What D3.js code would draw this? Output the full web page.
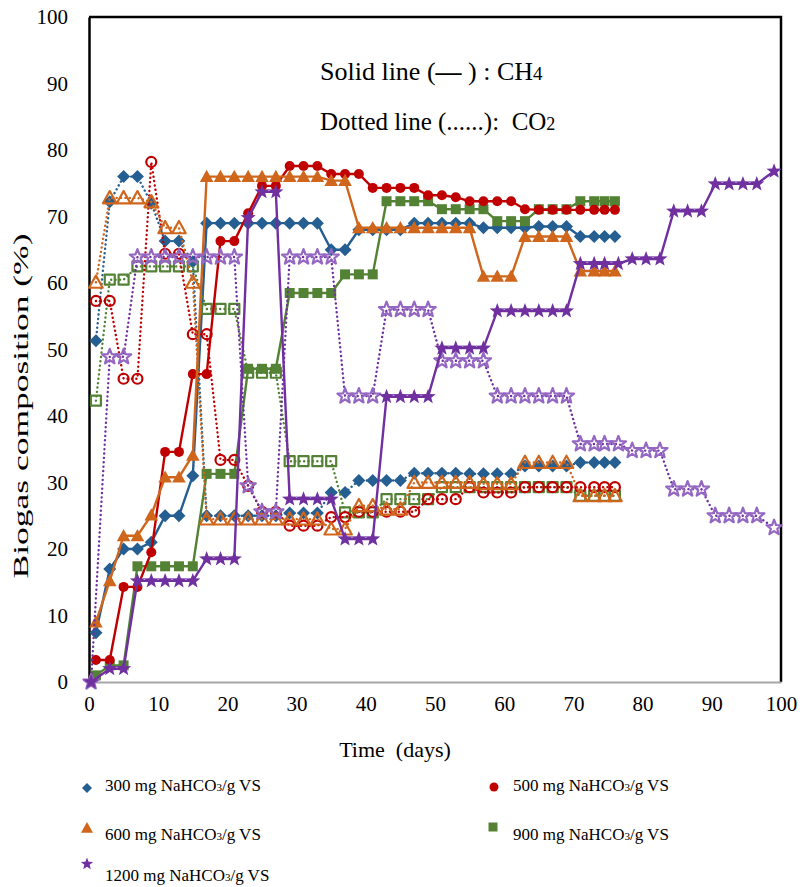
<!DOCTYPE html>
<html>
<head>
<meta charset="utf-8">
<script src="https://cdn.jsdelivr.net/npm/d3@7"></script>
<style>
  body { margin: 0; background: #fff; }
  svg text { font-family: "Liberation Serif", "Times New Roman", serif; fill: #000; }
</style>
</head>
<body>
<div id="container"></div>
<script>
// sampling days (300, 500, 600, 900 mg runs)
var days = [1,3,5,7,9,11,13,15,17,19,21,23,25,27,29,31,33,35,37,39,41,43,45,47,49,51,53,55,57,59,61,63,65,67,69,71,73,74.5,76];
// sampling days for the 1200 mg run (runs longer)
var daysLong = [0.3,3,5,7,9,11,13,15,17,19,21,23,25,27,29,31,33,35,37,39,41,43,45,47,49,51,53,55,57,59,61,63,65,67,69,71,73,74.5,76.5,78.5,80.5,82.5,84.5,86.5,88.5,90.5,92.5,94.5,96.5,99];

var ch4_300 = [7.4,17,20,20,21,25,25,31,69,69,69,69,69,69,69,69,69,65,65,68,68,68,68,69,69,69,69,69,68.3,68.3,68.3,68.3,68.5,68.5,68.5,67,67,67,67];
var co2_300 = [51.3,72.2,76,76,72,66.3,66.3,63.2,25,25,25,25,25,25,25.4,25.4,25.4,28.5,28.5,30.3,30.3,30.3,30.3,31.4,31.4,31.4,31.4,31.3,31.3,31.3,31.3,32.5,32.5,32.5,32.5,33,33,33,33];

var ch4_500 = [3.3,3.3,14.3,14.3,19.5,34.6,34.6,46.3,46.3,66.3,66.3,70.5,74.6,74.6,77.6,77.6,77.6,76.4,76.4,76.4,74.3,74.3,74.3,74.3,73.2,73.2,72.9,72.3,72.3,72.3,72.3,71.1,71,71,71,71,71,71,71];
var co2_500 = [57.3,57.3,45.6,45.6,78.2,64.4,64.4,52.3,52.3,33.4,33.4,29.5,25.6,25.6,23.5,23.5,23.5,24.8,24.8,25.6,25.6,25.6,25.6,25.6,27.5,27.5,27.5,29.3,28.5,28.5,28.5,29.3,29.3,29.3,29.3,29.3,29.3,29.3,29.3];

var ch4_600 = [9,15.2,22,22,25.1,30.8,30.8,34.1,76,76,76,76,76,76,76,76,76,75.4,75.4,68.3,68.3,68.3,68.3,68.3,68.3,68.3,68.3,68.3,61,61,61,67,67,67,67,61.8,61.8,61.8,61.8];
var co2_600 = [60.1,72.8,72.8,72.8,72.2,68.3,68.3,60.1,24.5,24.5,24.5,24.5,24.5,24.5,24.5,24.5,24.5,23,23,26.5,26.5,26,26,30,30,30,30,30,29.8,29.8,29.8,33,33,33,33,28,28,28,28];

var ch4_900 = [1,2.5,2.5,17.4,17.4,17.4,17.4,17.4,31.3,31.3,31.3,47.1,47.1,47.1,58.5,58.5,58.5,58.5,61.3,61.3,61.3,72.3,72.3,72.3,72.3,71.1,71.1,71.1,71.1,69.3,69.3,69.3,71.1,71.1,71.1,72.3,72.3,72.3,72.3];
var co2_900 = [42.3,60.5,60.5,62.5,62.5,62.5,62.5,62.5,56.1,56.1,56.1,46.5,46.5,46.5,33.2,33.2,33.2,33.2,25.5,25.5,25.5,27.5,27.5,27.5,27.5,29.3,29.3,29.3,29.3,29.3,29.3,29.3,29.3,29.3,29.3,28,28,28,28];

var ch4_1200 = [0,2,2,15.2,15.2,15.2,15.2,15.2,18.5,18.5,18.5,69.8,73.7,73.7,27.5,27.5,27.5,27.5,21.5,21.5,21.5,42.9,42.9,42.9,42.9,50.2,50.2,50.2,50.2,55.8,55.8,55.8,55.8,55.8,55.8,62.9,62.9,62.9,62.9,63.6,63.6,63.6,70.8,70.8,70.8,74.9,74.9,74.9,74.9,76.8];
var co2_1200 = [0,48.9,48.9,63.9,63.9,63.9,63.9,63.9,63.9,63.9,63.9,29.5,25.6,25.6,63.9,63.9,63.9,63.9,43,43,43,56,56,56,56,48.3,48.3,48.3,48.3,43,43,43,43,43,43,35.8,35.8,35.8,35.8,34.8,34.8,34.8,29,29,29,25,25,25,25,23.2];

var legendLabels = ["300", "500", "600", "900", "1200"];
var xTicks = [0,10,20,30,40,50,60,70,80,90,100];
var yTicks = [0,10,20,30,40,50,60,70,80,90,100];

var series = {
  "300":  {color: "#255E91", shape: "diamond",  x: days,     ch4: ch4_300,  co2: co2_300,  co2Fill: true},
  "500":  {color: "#C00000", shape: "circle",   x: days,     ch4: ch4_500,  co2: co2_500},
  "600":  {color: "#D0661C", shape: "triangle", x: days,     ch4: ch4_600,  co2: co2_600},
  "900":  {color: "#548235", shape: "square",   x: days,     ch4: ch4_900,  co2: co2_900},
  "1200": {color: "#7030A0", shape: "star",     x: daysLong, ch4: ch4_1200, co2: co2_1200, hollowStroke: "#9467C2"}
};
var drawOrder = ["300", "900", "500", "600", "1200"];

function shapePath(shape, r) {
  if (shape == "diamond") return "M0," + (-r) + "L" + r + ",0L0," + r + "L" + (-r) + ",0Z";
  if (shape == "triangle") return "M0," + (-r) + "L" + r + "," + (r * 0.8) + "L" + (-r) + "," + (r * 0.8) + "Z";
  if (shape == "square") return "M" + (-r) + "," + (-r) + "h" + (2 * r) + "v" + (2 * r) + "h" + (-2 * r) + "Z";
  if (shape == "circle") return d3.symbol(d3.symbolCircle, Math.PI * r * r)();
  // five point star
  var pts = [];
  for (var i = 0; i < 10; i++) {
    var rad = i % 2 == 0 ? r : r * 0.42;
    var a = -Math.PI / 2 + i * Math.PI / 5;
    pts.push([rad * Math.cos(a), rad * Math.sin(a)]);
  }
  return "M" + pts.map(p => p[0].toFixed(2) + "," + p[1].toFixed(2)).join("L") + "Z";
}
var markerSize = {diamond: 6.5, circle: 5, triangle: 6.8, square: 5, star: 8};
var legendSize = {diamond: 5, circle: 4.5, triangle: 6, square: 4.5, star: 6.5};

const width = 803, height = 887;
const x = d3.scaleLinear().domain([0, 100]).range([89, 781]);
const y = d3.scaleLinear().domain([0, 100]).range([682, 17]);

const svg = d3.select("#container")
  .append("svg")
    .attr("width", width)
    .attr("height", height);

// frame (top and right)
svg.append("path")
  .attr("d", "M" + x(0) + "," + y(100) + "H" + x(100) + "V" + y(0))
  .attr("fill", "none")
  .attr("stroke", "#000")
  .attr("stroke-width", 2.5);

// x-axis
var gx = svg.append("g")
  .attr("transform", "translate(0," + y(0) + ")")
  .call(d3.axisBottom(x).tickValues(xTicks).tickSize(0).tickPadding(14));
gx.attr("font-family", null);
gx.select(".domain").attr("stroke", "#a6a6a6").attr("stroke-width", 2);
gx.selectAll("text").attr("font-size", 21);

// y-axis
var gy = svg.append("g")
  .attr("transform", "translate(" + x(0) + ",0)")
  .call(d3.axisLeft(y).tickValues(yTicks).tickSize(0).tickPadding(21));
gy.attr("font-family", null);
gy.select(".domain").attr("stroke", "#000").attr("stroke-width", 2.5);
gy.selectAll("text").attr("font-size", 21);

// axis titles
svg.append("text")
  .attr("x", 395).attr("y", 757)
  .attr("text-anchor", "middle")
  .attr("font-size", 22)
  .attr("xml:space", "preserve")
  .text("Time  (days)");

svg.append("text")
  .attr("transform", "translate(28,406)rotate(-90)")
  .attr("text-anchor", "middle")
  .attr("font-size", 21)
  .attr("textLength", 345)
  .attr("lengthAdjust", "spacingAndGlyphs")
  .text("Biogas composition (%)");

// series
var lineGen = d3.line();
drawOrder.forEach(function(key) {
  var s = series[key];
  var g = svg.append("g");
  var ptsCo2 = s.x.map((d, i) => [x(d), y(s.co2[i])]);
  var ptsCh4 = s.x.map((d, i) => [x(d), y(s.ch4[i])]);

  // CO2 dotted
  g.append("path")
    .attr("d", lineGen(ptsCo2))
    .attr("fill", "none")
    .attr("stroke", s.color)
    .attr("stroke-width", 2.4)
    .attr("stroke-linecap", "round")
    .attr("stroke-dasharray", "0.1,4.3");
  g.selectAll(".co2")
    .data(ptsCo2)
    .join("path")
      .attr("transform", d => "translate(" + d[0] + "," + d[1] + ")")
      .attr("d", shapePath(s.shape, markerSize[s.shape]))
      .attr("fill", s.co2Fill ? s.color : "none")
      .attr("stroke", s.co2Fill ? "none" : (s.hollowStroke || s.color))
      .attr("stroke-width", 2.2)
      .attr("stroke-linejoin", "round");

  // CH4 solid
  g.append("path")
    .attr("d", lineGen(ptsCh4))
    .attr("fill", "none")
    .attr("stroke", s.color)
    .attr("stroke-width", 2.4);
  g.selectAll(".ch4")
    .data(ptsCh4)
    .join("path")
      .attr("transform", d => "translate(" + d[0] + "," + d[1] + ")")
      .attr("d", shapePath(s.shape, markerSize[s.shape]))
      .attr("fill", s.color);
});

// annotation
var ann1 = svg.append("text").attr("x", 320).attr("y", 80).attr("font-size", 26)
  .attr("xml:space", "preserve");
ann1.append("tspan").text("Solid line (");
ann1.append("tspan").attr("font-weight", "bold").text("\u2014");
ann1.append("tspan").text(" ) : CH");
ann1.append("tspan").attr("font-size", 19).text("4");

var ann2 = svg.append("text").attr("x", 320).attr("y", 130).attr("font-size", 25)
  .attr("xml:space", "preserve");
ann2.append("tspan").text("Dotted line (......):  CO");
ann2.append("tspan").attr("font-size", 18).text("2");

// legend
var legendPos = {
  "300":  {mx: 87,  my: 788, tx: 105, ty: 791},
  "500":  {mx: 494, my: 787, tx: 513, ty: 791},
  "600":  {mx: 87,  my: 828, tx: 105, ty: 840},
  "900":  {mx: 493, my: 827, tx: 513, ty: 840},
  "1200": {mx: 87,  my: 864, tx: 105, ty: 881}
};
legendLabels.forEach(function(key) {
  var s = series[key], p = legendPos[key];
  svg.append("path")
    .attr("transform", "translate(" + p.mx + "," + p.my + ")")
    .attr("d", shapePath(s.shape, legendSize[s.shape]))
    .attr("fill", s.color);
  var t = svg.append("text").attr("x", p.tx).attr("y", p.ty).attr("font-size", 17);
  t.append("tspan").text(key + " mg NaHCO");
  t.append("tspan").attr("font-size", 11).text("3");
  t.append("tspan").text("/g VS");
});
</script>
</body>
</html>
